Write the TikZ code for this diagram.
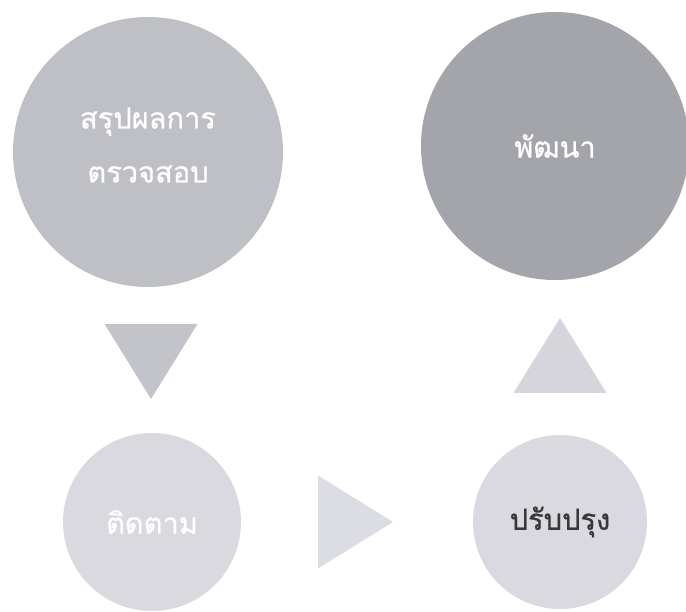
\documentclass[tikz,border=0pt]{standalone}
\usepackage{fontspec}
\newfontfamily\thaifont[Script=Thai,FakeBold=0.8]{Loma}
\usetikzlibrary{shapes.geometric}
\definecolor{sumgray}{HTML}{BFC0C6}
\definecolor{devgray}{HTML}{A3A5AB}
\definecolor{palegray}{HTML}{D9D9DF}
\definecolor{downgray}{HTML}{C3C4CA}
\definecolor{upgray}{HTML}{D5D5DB}
\definecolor{rightgray}{HTML}{DCDCE4}
\definecolor{inkgray}{HTML}{38383C}
\tikzset{
  step_node/.style = {circle, align=center, inner sep=0pt, text centered,
    font=\thaifont\fontsize{29}{54}\selectfont},
  big_node/.style = {step_node, minimum size=270pt},% grand cercle
  small_node/.style = {step_node, fill=palegray, minimum size=178pt},% petit cercle
  arrow_tri/.style = {isosceles triangle, isosceles triangle stretches,
    inner sep=0pt, outer sep=0pt, minimum width=93pt, minimum height=75pt}% fleche
}
\begin{document}
\begin{tikzpicture}[x=1pt, y=-1pt]
  \useasboundingbox (0,0) rectangle (686,612);
  \node [big_node, fill=sumgray, text=white] (summary) at (148,152)
    {สรุปผลการ\\ตรวจสอบ\rule[-14pt]{0pt}{14pt}};
  \node [big_node, fill=devgray, text=white, minimum size=268pt] (develop) at (555,146) {พัฒนา};
  \node [small_node, text=white] (follow) at (152,522) {ติดตาม};
  \node [small_node, text=inkgray, minimum size=174pt] (improve) at (560,522) {ปรับปรุง};
  % fleches
  \node [arrow_tri, fill=downgray, rotate=-90, anchor=apex] (down) at (151,399) {};
  \node [arrow_tri, fill=rightgray, anchor=apex] (right) at (393,522) {};
  \node [arrow_tri, fill=upgray, rotate=90, anchor=apex] (up) at (560,318) {};
\end{tikzpicture}
\end{document}
